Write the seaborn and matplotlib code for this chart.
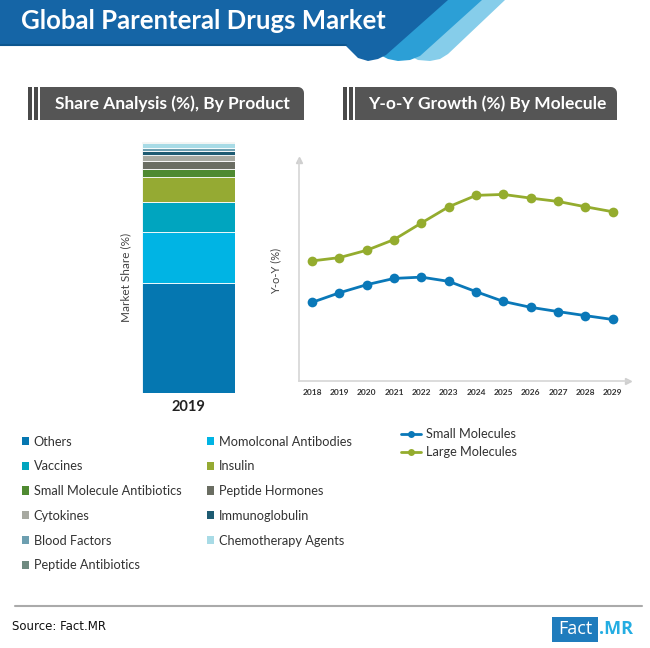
import numpy as np
import pandas as pd
import matplotlib
matplotlib.use("Agg")
import matplotlib.pyplot as plt
from matplotlib.patches import Polygon, Patch, Rectangle
from matplotlib.lines import Line2D
import seaborn as sns

# ---- data ----
products = ["Others", "Momolconal Antibodies", "Vaccines", "Insulin",
            "Small Molecule Antibiotics", "Peptide Hormones", "Cytokines",
            "Immunoglobulin", "Blood Factors", "Chemotherapy Agents",
            "Peptide Antibiotics"]
share_2019 = [44.0, 20.0, 12.0, 10.0, 3.2, 3.2, 2.4, 1.6, 1.2, 2.0, 0.4]
product_colors = ["#0577b1", "#00b4e4", "#00a5bf", "#95aa33", "#4f8a31",
                  "#6a6d62", "#a7a9a1", "#1e5b72", "#6d9fb0", "#a8dbe6",
                  "#6f8a80"]

years = [2018, 2019, 2020, 2021, 2022, 2023, 2024, 2025, 2026, 2027, 2028, 2029]
small_molecules = [4.27, 4.79, 5.23, 5.57, 5.64, 5.41, 4.85, 4.32, 4.00, 3.77, 3.55, 3.34]
large_molecules = [6.52, 6.70, 7.10, 7.68, 8.58, 9.46, 10.08, 10.13, 9.93, 9.75, 9.46, 9.19]
molecule_colors = {"Small Molecules": "#0a78b8", "Large Molecules": "#94ac2e"}

W, H = 650, 648


def fx(x):
    return x / W


def fy(y):
    return 1 - y / H


sns.set_style("white")
plt.rcParams["font.family"] = ["Lato", "DejaVu Sans"]

fig = plt.figure(figsize=(6.5, 6.48), dpi=100)

# ---- header banner ----
def poly(points, color):
    p = Polygon([(fx(x), fy(y)) for x, y in points], closed=True,
                facecolor=color, edgecolor="none", transform=fig.transFigure)
    fig.add_artist(p)


poly([(481, 0), (505, 0), (448, 54), (440, 59), (430, 61), (418, 60), (412, 57)], "#86cdea")
poly([(447, 0), (482, 0), (420, 56), (410, 60), (398, 61), (388, 59), (382, 56)], "#2c9fd6")
poly([(0, 0), (448, 0), (386, 55), (378, 59), (368, 61), (358, 58), (346, 46), (0, 46)], "#1565a6")
fig.add_artist(Line2D([0, fx(346)], [fy(45), fy(45)], color="#0d568f", lw=1.5,
                      transform=fig.transFigure))
fig.text(fx(21), fy(21), "Global Parenteral Drugs Market", color="white",
         fontsize=18.5, fontweight="bold", va="center", ha="left")

# ---- section tabs ----
def tab(x0, x1, text, tx):
    y0, y1 = 87, 120
    fig.add_artist(Rectangle((fx(x0 - 12), fy(y1)), fx(4), fy(y0) - fy(y1),
                             facecolor="#4a4a4a", edgecolor="none", transform=fig.transFigure))
    fig.add_artist(Rectangle((fx(x0 - 6), fy(y1)), fx(4), fy(y0) - fy(y1),
                             facecolor="#4a4a4a", edgecolor="none", transform=fig.transFigure))
    r = 6
    pts = [(x0, y1), (x0, y0), (x1 - r, y0)]
    for a in np.linspace(90, 0, 6):
        pts.append((x1 - r + r * np.cos(np.radians(a)), y0 + r - r * np.sin(np.radians(a))))
    pts.append((x1, y1))
    poly(pts, "#555555")
    fig.text(fx(tx), fy(104), text, color="white", fontsize=12.5,
             fontweight="bold", va="center", ha="left")


tab(40, 304, "Share Analysis (%), By Product", 55)
tab(355, 617, "Y-o-Y Growth (%) By Molecule", 368)

# ---- stacked bar ----
ax1 = fig.add_axes([fx(142), fy(393), fx(235) - fx(142), fy(142) - fy(393)])
bottom = 0.0
for name, val, col in zip(products, share_2019, product_colors):
    sns.barplot(x=["2019"], y=[val], bottom=bottom, color=col, width=1.0,
                saturation=1, edgecolor="white", linewidth=0.6, ax=ax1)
    bottom += val
ax1.set_ylim(0, 100)
ax1.set_yticks([])
ax1.set_xlabel("")
ax1.set_ylabel("Market Share (%)", fontsize=8.5, color="#444444")
ax1.yaxis.set_label_coords(-0.12, 0.46)
ax1.tick_params(axis="x", length=0, pad=5)
for t in ax1.get_xticklabels():
    t.set_fontsize(10.5)
    t.set_fontweight("bold")
    t.set_color("#222222")
sns.despine(ax=ax1, left=True, bottom=True)

# ---- line chart ----
df_lines = pd.DataFrame({
    "Year": years * 2,
    "Growth": small_molecules + large_molecules,
    "Molecule": ["Small Molecules"] * len(years) + ["Large Molecules"] * len(years),
})
ax2 = fig.add_axes([fx(299), fy(381), fx(628) - fx(299), fy(160) - fy(381)])
sns.lineplot(data=df_lines, x="Year", y="Growth", hue="Molecule",
             palette=molecule_colors, marker="o", markersize=7,
             markeredgewidth=0, linewidth=2, legend=False, ax=ax2)
ax2.set_xlim(2017.52, 2029.56)
ax2.set_ylim(0, 12)
ax2.set_xticks(years)
ax2.set_yticks([])
ax2.set_xlabel("")
ax2.set_ylabel("Y-o-Y (%)", fontsize=8, color="#444444")
ax2.yaxis.set_label_coords(-0.055, 0.5)
ax2.tick_params(axis="x", length=0, pad=6, labelsize=6, labelcolor="#333333")
for t in ax2.get_xticklabels():
    t.set_fontweight("bold")
sns.despine(ax=ax2)
for s in ["left", "bottom"]:
    ax2.spines[s].set_color("#d6d6d6")
    ax2.spines[s].set_linewidth(1.2)
ax2.plot(1, 0, ">", color="#cfcfcf", markersize=5, transform=ax2.transAxes, clip_on=False)
ax2.plot(0, 1, "^", color="#cfcfcf", markersize=5, transform=ax2.transAxes, clip_on=False)

# ---- legends ----
order = [0, 2, 4, 6, 8, 10, 1, 3, 5, 7, 9]
bar_handles = [Patch(facecolor=product_colors[i], edgecolor="none") for i in order]
bar_labels = [products[i] for i in order]
fig.legend(bar_handles, bar_labels, ncol=2, loc="upper left",
           bbox_to_anchor=(fx(10), fy(424)), frameon=False, fontsize=9.2,
           handlelength=0.6, handleheight=0.6, handletextpad=0.35,
           labelspacing=1.0, columnspacing=2.0, labelcolor="#333333")

line_handles = [Line2D([], [], color=molecule_colors[k], marker="o", markersize=5,
                       markeredgewidth=0, lw=2) for k in ["Small Molecules", "Large Molecules"]]
fig.legend(line_handles, ["Small Molecules", "Large Molecules"], loc="upper left",
           bbox_to_anchor=(fx(389), fy(417)), frameon=False, fontsize=9.2,
           handlelength=1.6, handletextpad=0.4, labelspacing=0.45,
           labelcolor="#333333")

# ---- footer ----
fig.add_artist(Line2D([fx(15), fx(642)], [fy(606), fy(606)], color="#aaaaaa", lw=1.5,
                      transform=fig.transFigure))
fig.text(fx(12), fy(627), "Source: Fact.MR", fontsize=8.5, color="#111111",
         va="center", ha="left", family=["Liberation Sans Narrow", "DejaVu Sans"])
fig.add_artist(Rectangle((fx(552), fy(642)), fx(46), fy(617) - fy(642),
                         facecolor="#1f7cbd", edgecolor="none", transform=fig.transFigure))
fig.text(fx(575), fy(629.5), "Fact", fontsize=13, color="white", va="center", ha="center",
         family=["Open Sans", "DejaVu Sans"])
fig.text(fx(599), fy(629.5), ".MR", fontsize=13, color="#24ade2", fontweight="bold",
         va="center", ha="left", family=["Open Sans", "DejaVu Sans"])

fig.savefig("out.png", dpi=100)
